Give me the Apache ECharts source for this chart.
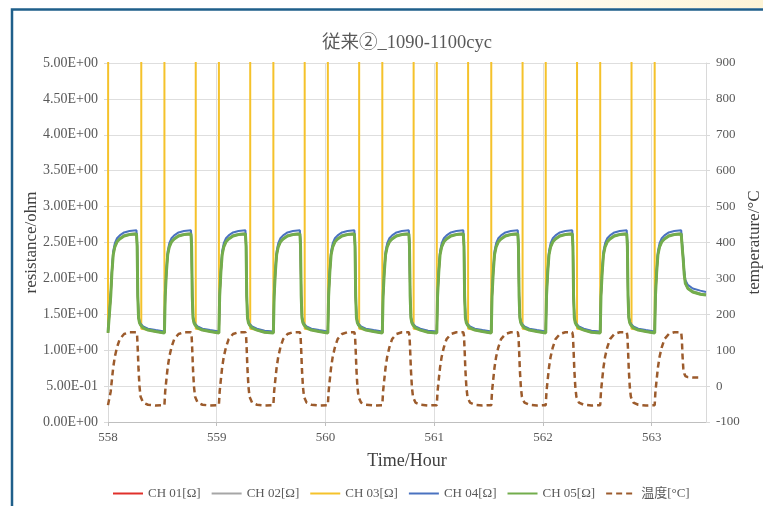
<!DOCTYPE html>
<html>
<head>
<meta charset="utf-8">
<script src="https://cdn.jsdelivr.net/npm/echarts@6/dist/echarts.min.js"></script>
<style>
html,body{margin:0;padding:0;background:#fff;}
#chart{width:763px;height:506px;}
</style>
</head>
<body>
<div id="chart"></div>
<script>
// ---- data ----
const titleText = '従来②_1090-1100cyc';
const seriesNames = ['CH 01[Ω]', 'CH 02[Ω]', 'CH 03[Ω]', 'CH 04[Ω]', 'CH 05[Ω]', '温度[°C]'];
const leftTickLabels = ['0.00E+00','5.00E-01','1.00E+00','1.50E+00','2.00E+00','2.50E+00','3.00E+00','3.50E+00','4.00E+00','4.50E+00','5.00E+00'];

// time axis (hours) shared by CH01, CH02, CH04, CH05 and temperature
const hours = [558.000,
558.018,558.025,558.036,558.048,558.063,558.083,558.108,558.148,558.198,558.262,558.268,558.274,558.281,558.290,558.300,558.323,558.368,558.438,
558.519,558.526,558.537,558.549,558.564,558.584,558.609,558.649,558.699,558.763,558.769,558.775,558.782,558.791,558.801,558.824,558.869,558.939,
559.020,559.027,559.038,559.050,559.065,559.085,559.110,559.150,559.200,559.264,559.270,559.276,559.283,559.292,559.302,559.325,559.370,559.440,
559.521,559.528,559.539,559.551,559.566,559.586,559.611,559.651,559.701,559.765,559.771,559.777,559.784,559.793,559.803,559.826,559.871,559.941,
560.022,560.029,560.040,560.052,560.067,560.087,560.112,560.152,560.202,560.266,560.272,560.278,560.285,560.294,560.304,560.327,560.372,560.442,
560.523,560.530,560.541,560.553,560.568,560.588,560.613,560.653,560.703,560.767,560.773,560.779,560.786,560.795,560.805,560.828,560.873,560.943,
561.024,561.031,561.042,561.054,561.069,561.089,561.114,561.154,561.204,561.268,561.274,561.280,561.287,561.296,561.306,561.329,561.374,561.444,
561.525,561.532,561.543,561.555,561.570,561.590,561.615,561.655,561.705,561.769,561.775,561.781,561.788,561.797,561.807,561.830,561.875,561.945,
562.026,562.033,562.044,562.056,562.071,562.091,562.116,562.156,562.206,562.270,562.276,562.282,562.289,562.298,562.308,562.331,562.376,562.446,
562.527,562.534,562.545,562.557,562.572,562.592,562.617,562.657,562.707,562.771,562.777,562.783,562.790,562.799,562.809,562.832,562.877,562.947,
563.028,563.035,563.046,563.058,563.073,563.093,563.118,563.158,563.208,563.272,563.278,563.284,563.291,563.300,563.310,563.333,563.378,563.448,
563.500];

const ch01 = [1.24,
1.24,1.75,2.08,2.33,2.44,2.51,2.55,2.59,2.61,2.62,2.45,1.75,1.45,1.38,1.35,1.31,1.28,1.26,
1.24,1.75,2.08,2.33,2.44,2.51,2.55,2.59,2.61,2.62,2.45,1.75,1.45,1.38,1.35,1.31,1.28,1.26,
1.24,1.75,2.08,2.33,2.44,2.51,2.55,2.59,2.61,2.62,2.45,1.75,1.45,1.38,1.35,1.31,1.28,1.25,
1.24,1.75,2.08,2.33,2.44,2.51,2.55,2.59,2.61,2.62,2.45,1.75,1.45,1.38,1.35,1.31,1.28,1.26,
1.24,1.75,2.08,2.33,2.44,2.51,2.55,2.59,2.61,2.62,2.45,1.75,1.45,1.38,1.35,1.31,1.28,1.26,
1.24,1.75,2.08,2.33,2.44,2.51,2.55,2.59,2.61,2.62,2.45,1.75,1.45,1.38,1.35,1.31,1.28,1.25,
1.24,1.75,2.08,2.33,2.44,2.51,2.55,2.59,2.61,2.62,2.45,1.75,1.45,1.38,1.35,1.31,1.28,1.26,
1.24,1.75,2.08,2.33,2.44,2.51,2.55,2.59,2.61,2.62,2.45,1.75,1.45,1.38,1.35,1.31,1.28,1.26,
1.24,1.75,2.08,2.33,2.44,2.51,2.55,2.59,2.61,2.62,2.45,1.75,1.45,1.38,1.35,1.31,1.28,1.25,
1.24,1.75,2.08,2.33,2.44,2.51,2.55,2.59,2.61,2.62,2.45,1.75,1.45,1.38,1.35,1.31,1.28,1.26,
1.24,1.75,2.08,2.33,2.44,2.51,2.55,2.59,2.61,2.62,2.50,2.38,2.25,2.05,1.93,1.86,1.81,1.78,
1.77];

const ch02 = [1.25,
1.25,1.76,2.09,2.34,2.45,2.52,2.56,2.60,2.62,2.63,2.46,1.76,1.46,1.39,1.36,1.32,1.29,1.27,
1.25,1.76,2.09,2.34,2.45,2.52,2.56,2.60,2.62,2.63,2.46,1.76,1.46,1.39,1.36,1.32,1.29,1.27,
1.25,1.76,2.09,2.34,2.45,2.52,2.56,2.60,2.62,2.63,2.46,1.76,1.46,1.39,1.36,1.32,1.29,1.26,
1.25,1.76,2.09,2.34,2.45,2.52,2.56,2.60,2.62,2.63,2.46,1.76,1.46,1.39,1.36,1.32,1.29,1.27,
1.25,1.76,2.09,2.34,2.45,2.52,2.56,2.60,2.62,2.63,2.46,1.76,1.46,1.39,1.36,1.32,1.29,1.27,
1.25,1.76,2.09,2.34,2.45,2.52,2.56,2.60,2.62,2.63,2.46,1.76,1.46,1.39,1.36,1.32,1.29,1.26,
1.25,1.76,2.09,2.34,2.45,2.52,2.56,2.60,2.62,2.63,2.46,1.76,1.46,1.39,1.36,1.32,1.29,1.27,
1.25,1.76,2.09,2.34,2.45,2.52,2.56,2.60,2.62,2.63,2.46,1.76,1.46,1.39,1.36,1.32,1.29,1.27,
1.25,1.76,2.09,2.34,2.45,2.52,2.56,2.60,2.62,2.63,2.46,1.76,1.46,1.39,1.36,1.32,1.29,1.26,
1.25,1.76,2.09,2.34,2.45,2.52,2.56,2.60,2.62,2.63,2.46,1.76,1.46,1.39,1.36,1.32,1.29,1.27,
1.25,1.76,2.09,2.34,2.45,2.52,2.56,2.60,2.62,2.63,2.51,2.39,2.26,2.06,1.94,1.87,1.82,1.79,
1.78];

const ch04 = [1.26,
1.26,1.78,2.12,2.38,2.49,2.56,2.60,2.64,2.66,2.67,2.50,1.78,1.47,1.40,1.37,1.33,1.30,1.28,
1.26,1.78,2.12,2.38,2.49,2.56,2.60,2.64,2.66,2.67,2.50,1.78,1.47,1.40,1.37,1.33,1.30,1.28,
1.26,1.78,2.12,2.38,2.49,2.56,2.60,2.64,2.66,2.67,2.50,1.78,1.47,1.40,1.37,1.33,1.30,1.27,
1.26,1.78,2.12,2.38,2.49,2.56,2.60,2.64,2.66,2.67,2.50,1.78,1.47,1.40,1.37,1.33,1.30,1.28,
1.26,1.78,2.12,2.38,2.49,2.56,2.60,2.64,2.66,2.67,2.50,1.78,1.47,1.40,1.37,1.33,1.30,1.28,
1.26,1.78,2.12,2.38,2.49,2.56,2.60,2.64,2.66,2.67,2.50,1.78,1.47,1.40,1.37,1.33,1.30,1.27,
1.26,1.78,2.12,2.38,2.49,2.56,2.60,2.64,2.66,2.67,2.50,1.78,1.47,1.40,1.37,1.33,1.30,1.28,
1.26,1.78,2.12,2.38,2.49,2.56,2.60,2.64,2.66,2.67,2.50,1.78,1.47,1.40,1.37,1.33,1.30,1.28,
1.26,1.78,2.12,2.38,2.49,2.56,2.60,2.64,2.66,2.67,2.50,1.78,1.47,1.40,1.37,1.33,1.30,1.27,
1.26,1.78,2.12,2.38,2.49,2.56,2.60,2.64,2.66,2.67,2.50,1.78,1.47,1.40,1.37,1.33,1.30,1.28,
1.26,1.78,2.12,2.38,2.49,2.56,2.60,2.64,2.66,2.67,2.55,2.43,2.30,2.10,1.98,1.91,1.86,1.83,
1.81];

const ch05 = [1.24,
1.24,1.75,2.08,2.33,2.44,2.51,2.55,2.59,2.61,2.62,2.45,1.75,1.45,1.38,1.35,1.31,1.28,1.26,
1.24,1.75,2.08,2.33,2.44,2.51,2.55,2.59,2.61,2.62,2.45,1.75,1.45,1.38,1.35,1.31,1.28,1.26,
1.24,1.75,2.08,2.33,2.44,2.51,2.55,2.59,2.61,2.62,2.45,1.75,1.45,1.38,1.35,1.31,1.28,1.25,
1.24,1.75,2.08,2.33,2.44,2.51,2.55,2.59,2.61,2.62,2.45,1.75,1.45,1.38,1.35,1.31,1.28,1.26,
1.24,1.75,2.08,2.33,2.44,2.51,2.55,2.59,2.61,2.62,2.45,1.75,1.45,1.38,1.35,1.31,1.28,1.26,
1.24,1.75,2.08,2.33,2.44,2.51,2.55,2.59,2.61,2.62,2.45,1.75,1.45,1.38,1.35,1.31,1.28,1.25,
1.24,1.75,2.08,2.33,2.44,2.51,2.55,2.59,2.61,2.62,2.45,1.75,1.45,1.38,1.35,1.31,1.28,1.26,
1.24,1.75,2.08,2.33,2.44,2.51,2.55,2.59,2.61,2.62,2.45,1.75,1.45,1.38,1.35,1.31,1.28,1.26,
1.24,1.75,2.08,2.33,2.44,2.51,2.55,2.59,2.61,2.62,2.45,1.75,1.45,1.38,1.35,1.31,1.28,1.25,
1.24,1.75,2.08,2.33,2.44,2.51,2.55,2.59,2.61,2.62,2.45,1.75,1.45,1.38,1.35,1.31,1.28,1.26,
1.24,1.75,2.08,2.33,2.44,2.51,2.55,2.59,2.61,2.62,2.50,2.38,2.25,2.05,1.93,1.86,1.81,1.78,
1.77];

const temperature = [-53,
-53,-15,18,52,82,108,131,145,150,150,140,100,45,-2,-30,-46,-52,-54,
-53,-15,18,52,82,108,131,145,150,150,140,100,45,-2,-30,-46,-52,-54,
-53,-15,18,52,82,108,131,145,150,150,140,100,45,-2,-30,-46,-52,-54,
-53,-15,18,52,82,108,131,145,150,150,140,100,45,-2,-30,-46,-52,-54,
-53,-15,18,52,82,108,131,145,150,150,140,100,45,-2,-30,-46,-52,-54,
-53,-15,18,52,82,108,131,145,150,150,140,100,45,-2,-30,-46,-52,-54,
-53,-15,18,52,82,108,131,145,150,150,140,100,45,-2,-30,-46,-52,-54,
-53,-15,18,52,82,108,131,145,150,150,140,100,45,-2,-30,-46,-52,-54,
-53,-15,18,52,82,108,131,145,150,150,140,100,45,-2,-30,-46,-52,-54,
-53,-15,18,52,82,108,131,145,150,150,140,100,45,-2,-30,-46,-52,-54,
-53,-15,18,52,82,108,131,145,150,150,130,85,50,35,28,25,24,24,
null];

// CH03 goes off scale (open) during each hot phase
const ch03Hours = [558.000,
558.018,558.018,558.306,558.306,
558.519,558.519,558.807,558.807,
559.020,559.020,559.308,559.308,
559.521,559.521,559.809,559.809,
560.022,560.022,560.310,560.310,
560.523,560.523,560.811,560.811,
561.024,561.024,561.312,561.312,
561.525,561.525,561.813,561.813,
562.026,562.026,562.314,562.314,
562.527,562.527,562.815,562.815,
563.028,563.028,563.500];
const ch03 = [1.25,
1.25,50,50,1.30,
1.25,50,50,1.30,
1.25,50,50,1.30,
1.25,50,50,1.30,
1.25,50,50,1.30,
1.25,50,50,1.30,
1.25,50,50,1.30,
1.25,50,50,1.30,
1.25,50,50,1.30,
1.25,50,50,1.30,
1.25,50,50];

// ---- chart ----
const serif = '"Liberation Serif", "Noto Sans CJK JP", serif';
const pair = (xs, ys) => xs.map((x, i) => [x, ys[i]]);
const chart = echarts.init(document.getElementById('chart'), null, {renderer: 'canvas'});

function lineSeries(name, data, color, width, yIndex, dashed) {
  return {
    name: name, type: 'line', data: data, yAxisIndex: yIndex,
    symbol: 'none', showSymbol: false, clip: true, animation: false,
    lineStyle: {color: color, width: width, type: dashed ? [6, 4] : 'solid'},
    itemStyle: {color: color},
    emphasis: {disabled: true}
  };
}

const option = {
  backgroundColor: '#ffffff',
  animation: false,
  title: {
    text: titleText, left: 407, top: 34, textAlign: 'center', padding: 0,
    textStyle: {fontFamily: serif, fontSize: 18.5, fontWeight: 'normal', color: '#595959'}
  },
  grid: {left: 108, right: 57, top: 63, bottom: 84, outerBoundsMode: 'none', containLabel: false},
  legend: {
    left: 112, top: 487, padding: 0, itemWidth: 30, itemHeight: 14, itemGap: 10,
    itemStyle: {opacity: 0},
    textStyle: {fontFamily: serif, fontSize: 13, color: '#595959'},
    data: seriesNames
  },
  xAxis: {
    type: 'value', min: 558, max: 563.5, interval: 1,
    name: 'Time/Hour', nameLocation: 'middle', nameGap: 30, nameMoveOverlap: false,
    nameTextStyle: {fontFamily: serif, fontSize: 18, color: '#404040'},
    axisLine: {show: true, lineStyle: {color: '#bfbfbf'}},
    axisTick: {show: true, length: 4, lineStyle: {color: '#bfbfbf'}},
    axisLabel: {fontFamily: serif, fontSize: 13, color: '#595959', margin: 9, showMaxLabel: false},
    splitLine: {show: true, lineStyle: {color: '#dedede'}}
  },
  yAxis: [
    {
      type: 'value', min: 0, max: 5, interval: 0.5, position: 'left',
      name: 'resistance/ohm', nameLocation: 'middle', nameGap: 68, nameRotate: 90, nameMoveOverlap: false,
      nameTextStyle: {fontFamily: serif, fontSize: 17, color: '#404040'},
      axisLine: {show: true, lineStyle: {color: '#d9d9d9'}},
      axisTick: {show: true, length: 4, lineStyle: {color: '#d9d9d9'}},
      axisLabel: {fontFamily: serif, fontSize: 14, color: '#595959', margin: 10,
        formatter: v => leftTickLabels[Math.round(v / 0.5)]},
      splitLine: {show: true, lineStyle: {color: '#dedede'}}
    },
    {
      type: 'value', min: -100, max: 900, interval: 100, position: 'right',
      name: 'temperature/°C', nameLocation: 'middle', nameGap: 40, nameRotate: 90, nameMoveOverlap: false,
      nameTextStyle: {fontFamily: serif, fontSize: 17, color: '#404040'},
      axisLine: {show: true, lineStyle: {color: '#d9d9d9'}},
      axisTick: {show: true, length: 4, lineStyle: {color: '#d9d9d9'}},
      axisLabel: {fontFamily: serif, fontSize: 13, color: '#595959', margin: 10},
      splitLine: {show: false}
    }
  ],
  graphic: [
    {type: 'rect', shape: {x: 0, y: 0, width: 763, height: 8}, silent: true, z: -1,
      style: {fill: new echarts.graphic.LinearGradient(0, 0, 1, 0, [
        {offset: 0, color: '#ffffff'}, {offset: 0.55, color: '#ffffff'}, {offset: 1, color: '#fdf4d6'}])}},
    {type: 'rect', shape: {x: 12, y: 9.5, width: 800, height: 600}, silent: true,
      style: {fill: 'none', stroke: '#1f5f8a', lineWidth: 2.5}}
  ],
  series: [
    lineSeries(seriesNames[0], pair(hours, ch01), '#e0302b', 2, 0, false),
    lineSeries(seriesNames[1], pair(hours, ch02), '#a6a6a6', 2, 0, false),
    lineSeries(seriesNames[2], pair(ch03Hours, ch03), '#f5c22b', 2, 0, false),
    lineSeries(seriesNames[3], pair(hours, ch04), '#4a72c0', 2, 0, false),
    lineSeries(seriesNames[4], pair(hours, ch05), '#72ad4c', 3, 0, false),
    lineSeries(seriesNames[5], pair(hours, temperature), '#9c5b2c', 2.5, 1, true)
  ]
};
chart.setOption(option);
</script>
</body>
</html>
